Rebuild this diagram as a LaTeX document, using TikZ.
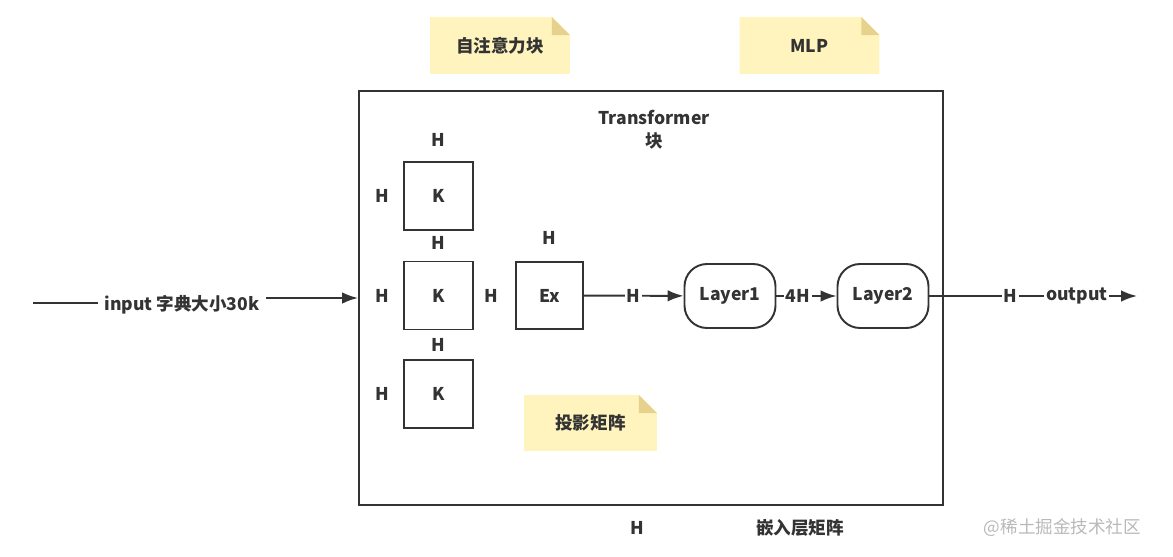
\documentclass[tikz,border=0pt]{standalone}
\usepackage{fontspec}
\setmainfont{Noto Sans CJK SC}
\usetikzlibrary{positioning, calc, backgrounds, arrows.meta}
\definecolor{ink}{RGB}{51,51,51}
\definecolor{notefill}{RGB}{255,244,190}
\definecolor{notefold}{RGB}{230,210,140}
\definecolor{mark}{RGB}{185,185,185}

\begin{document}
\begin{tikzpicture}[
    line width=1.1pt, color=ink, font=\bfseries,
    box/.style={draw, minimum width=1.38cm, minimum height=1.36cm},
    layer/.style={draw, rounded corners=0.45cm, minimum width=1.82cm, minimum height=1.28cm},
    note/.style={minimum width=2.76cm, minimum height=1.1cm},
    lbl/.style={fill=white, inner sep=1pt},
    arr/.style={->, >={Latex[length=9pt, width=6.5pt]}},
  ]
      \useasboundingbox (0,0) rectangle (23.46,-11.14);

      % notes
      \node[note] (nsa) at (10.00,-0.91) {自注意力块};
      \node[note] (mlp) at (16.19,-0.91) {MLP};
      \node[note, minimum width=2.62cm, minimum height=1.08cm] (prj) at (11.81,-8.46) {投影矩阵};

      % transformer block
      \node[draw, minimum width=11.68cm, minimum height=8.28cm] (tfb) at (13.02,-5.96) {};
      \node[align=center] (tfl) at (13.08,-2.59) {Transformer\\[1pt]块};

      \node[box, label={[label distance=0.15cm]above:H}, label={[label distance=0.15cm]left:H}] (k1) at (8.77,-3.92) {K};
      \node[box, label={[label distance=0.08cm]above:H}, label={[label distance=0.15cm]left:H}] (k2) at (8.77,-5.91) {K};
      \node[box, label={[label distance=0.02cm]above:H}, label={[label distance=0.15cm]left:H}] (k3) at (8.77,-7.88) {K};
      \node[box, minimum width=1.34cm, minimum height=1.34cm, label={[label distance=0.2cm]above:H}, label={[label distance=0.2cm]left:H}] (ex) at (10.99,-5.91) {Ex};

      \node[layer] (l1) at (14.60,-5.92) {Layer1};
      \node[layer] (l2) at (17.66,-5.92) {Layer2};

      \coordinate (in)  at (0.66,-6.06);
      \coordinate (out) at (22.74,-5.92);
      \node (inl) at (3.64,-6.10) {input 字典大小30k};

      \draw       (in) -- (in -| inl.west);
      \draw[arr]  (inl.east |- tfb.west) -- (tfb.west);
      \draw[arr]  (ex) -- (l1) node [midway, lbl] {H};
      \draw[arr]  (l1) -- (l2) node [pos=0.36, lbl] {4H};
      \draw[arr]  (l2) -- (out) node [pos=0.39, lbl] {H} node [pos=0.71, lbl] {output};

      % bottom texts
      \node (hb)  at (12.74,-10.56) {H};
      \node (emb) at (16.00,-10.56) {嵌入层矩阵};
      \node[text=mark, font=\normalfont] (wm) at (21.25,-10.56) {@稀土掘金技术社区};

      % note backgrounds
      \begin{scope}[on background layer]
        \foreach \n in {nsa, mlp, prj} {
          \fill[notefill] (\n.south west) -- (\n.north west) -- ([xshift=-0.36cm]\n.north east)
            -- ([yshift=-0.36cm]\n.north east) -- (\n.south east) -- cycle;
          \fill[notefold] ([xshift=-0.36cm]\n.north east) -- ([xshift=-0.36cm, yshift=-0.36cm]\n.north east)
            -- ([yshift=-0.36cm]\n.north east) -- cycle;
        }
      \end{scope}
    \end{tikzpicture}
\end{document}
